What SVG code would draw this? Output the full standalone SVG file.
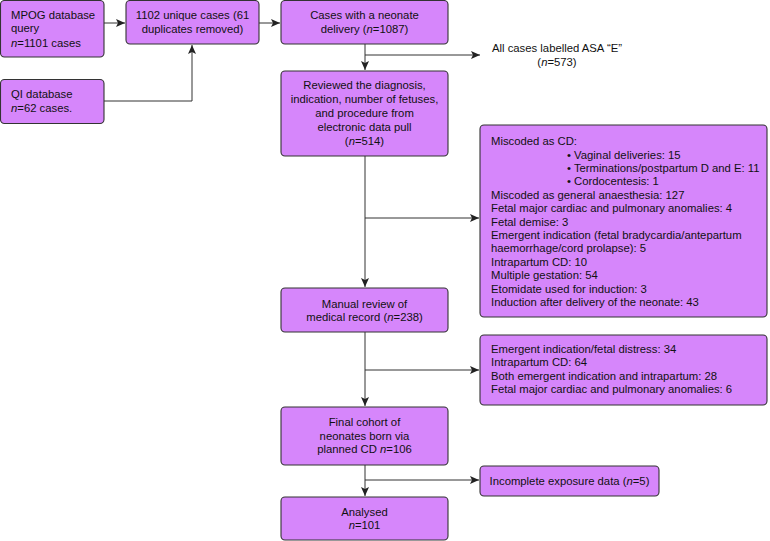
<svg xmlns="http://www.w3.org/2000/svg" width="770" height="541" viewBox="0 0 770 541">
<style>
.box{fill:#d686fb;stroke:#333;stroke-width:1.1}
text{font-family:"Liberation Sans",Arial,sans-serif;font-size:11.3px;fill:#111}
.c{text-anchor:middle}
.ln{fill:none;stroke:#333;stroke-width:1}
</style>
<defs>
<marker id="ah" markerWidth="10" markerHeight="8" refX="9" refY="4" orient="auto" markerUnits="userSpaceOnUse">
<path d="M0,0 L9,4 L0,8 L2,4 Z" fill="#222"/>
</marker>
</defs>
<rect width="770" height="541" fill="#fff"/>
<g id="connectors">
<path class="ln" d="M104,23 H125" marker-end="url(#ah)"/>
<path class="ln" d="M104,101 H192 V45" marker-end="url(#ah)"/>
<path class="ln" d="M259,23 H280" marker-end="url(#ah)"/>
<path class="ln" d="M365,44 V70" marker-end="url(#ah)"/>
<path class="ln" d="M365,55 H480" marker-end="url(#ah)"/>
<path class="ln" d="M365,156 V287" marker-end="url(#ah)"/>
<path class="ln" d="M365,218 H479" marker-end="url(#ah)"/>
<path class="ln" d="M365,332 V406" marker-end="url(#ah)"/>
<path class="ln" d="M365,370 H479" marker-end="url(#ah)"/>
<path class="ln" d="M365,465 V496" marker-end="url(#ah)"/>
<path class="ln" d="M365,480 H479" marker-end="url(#ah)"/>
</g>
<g id="mpog">
<rect class="box" x="0.5" y="0.5" width="103.5" height="56.5" rx="4"/>
<text x="11" y="19">MPOG database</text>
<text x="11" y="32">query</text>
<text x="11" y="47"><tspan font-style="italic">n</tspan>=1101 cases</text>
</g>
<g id="qi">
<rect class="box" x="0.5" y="79.5" width="103.5" height="44" rx="4"/>
<text x="11" y="98">QI database</text>
<text x="11" y="112"><tspan font-style="italic">n</tspan>=62 cases.</text>
</g>
<g id="unique">
<rect class="box" x="126" y="0.5" width="133" height="43.5" rx="4"/>
<text class="c" x="192.5" y="19">1102 unique cases (61</text>
<text class="c" x="192.5" y="33">duplicates removed)</text>
</g>
<g id="neonate">
<rect class="box" x="281" y="0.5" width="167" height="43.5" rx="4"/>
<text class="c" x="364.5" y="19">Cases with a neonate</text>
<text class="c" x="364.5" y="33">delivery (<tspan font-style="italic">n</tspan>=1087)</text>
</g>
<g id="asa">
<text class="c" x="557" y="52">All cases labelled ASA “E”</text>
<text class="c" x="557" y="65.5">(<tspan font-style="italic">n</tspan>=573)</text>
</g>
<g id="reviewed">
<rect class="box" x="281" y="71" width="167" height="85" rx="4"/>
<text class="c" x="364.5" y="89">Reviewed the diagnosis,</text>
<text class="c" x="364.5" y="103">indication, number of fetuses,</text>
<text class="c" x="364.5" y="117">and procedure from</text>
<text class="c" x="364.5" y="131">electronic data pull</text>
<text class="c" x="364.5" y="145">(<tspan font-style="italic">n</tspan>=514)</text>
</g>
<g id="miscoded">
<rect class="box" x="480" y="125" width="287" height="192" rx="4"/>
<text x="491" y="145">Miscoded as CD:</text>
<text x="567" y="159">• Vaginal deliveries: 15</text>
<text x="567" y="172">• Terminations/postpartum D and E: 11</text>
<text x="567" y="185">• Cordocentesis: 1</text>
<text x="491" y="199">Miscoded as general anaesthesia: 127</text>
<text x="491" y="212">Fetal major cardiac and pulmonary anomalies: 4</text>
<text x="491" y="226">Fetal demise: 3</text>
<text x="491" y="239">Emergent indication (fetal bradycardia/antepartum</text>
<text x="491" y="252">haemorrhage/cord prolapse): 5</text>
<text x="491" y="266">Intrapartum CD: 10</text>
<text x="491" y="279">Multiple gestation: 54</text>
<text x="491" y="293">Etomidate used for induction: 3</text>
<text x="491" y="306">Induction after delivery of the neonate: 43</text>
</g>
<g id="manual">
<rect class="box" x="281" y="288" width="167" height="44" rx="4"/>
<text class="c" x="364.5" y="308">Manual review of</text>
<text class="c" x="364.5" y="321">medical record (<tspan font-style="italic">n</tspan>=238)</text>
</g>
<g id="excluded2">
<rect class="box" x="480" y="335" width="287" height="70" rx="4"/>
<text x="491" y="353">Emergent indication/fetal distress: 34</text>
<text x="491" y="366">Intrapartum CD: 64</text>
<text x="491" y="380">Both emergent indication and intrapartum: 28</text>
<text x="491" y="393">Fetal major cardiac and pulmonary anomalies: 6</text>
</g>
<g id="final">
<rect class="box" x="281" y="407" width="167" height="58" rx="4"/>
<text class="c" x="364.5" y="426">Final cohort of</text>
<text class="c" x="364.5" y="440">neonates born via</text>
<text class="c" x="364.5" y="453">planned CD <tspan font-style="italic">n</tspan>=106</text>
</g>
<g id="incomplete">
<rect class="box" x="480" y="466" width="179" height="30" rx="4"/>
<text class="c" x="569.5" y="485">Incomplete exposure data (<tspan font-style="italic">n</tspan>=5)</text>
</g>
<g id="analysed">
<rect class="box" x="281" y="497" width="167" height="43" rx="4"/>
<text class="c" x="364.5" y="516">Analysed</text>
<text class="c" x="364.5" y="529"><tspan font-style="italic">n</tspan>=101</text>
</g>
</svg>
